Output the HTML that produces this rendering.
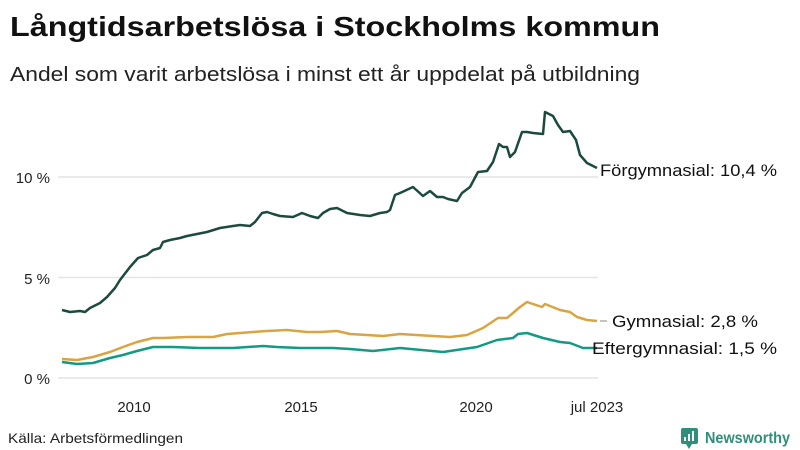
<!DOCTYPE html>
<html><head><meta charset="utf-8"><style>
html,body{margin:0;padding:0;background:#fff;width:800px;height:450px;overflow:hidden}
svg{display:block;font-family:"Liberation Sans","DejaVu Sans",sans-serif}
</style></head><body>
<svg width="800" height="450" viewBox="0 0 800 450">
<text x="10" y="36" font-size="28" font-weight="bold" fill="#111" textLength="650" lengthAdjust="spacingAndGlyphs">Långtidsarbetslösa i Stockholms kommun</text>
<text x="10" y="81" font-size="20" fill="#222" textLength="630" lengthAdjust="spacingAndGlyphs">Andel som varit arbetslösa i minst ett år uppdelat på utbildning</text>
<g stroke="#e3e3e8" stroke-width="1.5">
<line x1="58" y1="177" x2="598" y2="177"/><line x1="58" y1="277.5" x2="598" y2="277.5"/><line x1="58" y1="378" x2="598" y2="378"/>
</g>
<g font-size="15" fill="#222" text-anchor="end">
<text x="50" y="183">10 %</text><text x="50" y="284">5 %</text><text x="50" y="384">0 %</text>
</g>
<g font-size="15" fill="#222" text-anchor="middle">
<text x="134" y="412">2010</text><text x="301" y="412">2015</text><text x="476" y="412">2020</text><text x="597" y="412">jul 2023</text>
</g>
<g fill="none" stroke-width="2.5" stroke-linejoin="round">
<polyline stroke="#d9a441" points="62,359 77,360 93,357 110,352 123,347 137,342 153,338 163,338 187,337 213,337 227,334 240,333 253,332 267,331 287,330 307,332 320,332 337,331 350,334 367,335 383,336 400,334 433,336 450,337 467,335 483,328 498,318 507,318 513,313 520,307 527,302 542,307 545,304 560,310 570,312 577,317 587,320 597,321"/>
<polyline stroke="#119a85" points="62,362 77,364 93,363 110,358 123,355 137,351 153,347 173,347 200,348 233,348 263,346 277,347 300,348 333,348 350,349 373,351 400,348 443,352 477,347 497,340 513,338 518,334 527,333 543,338 560,342 570,343 583,348 597,348"/>
<polyline stroke="#1d4a40" points="62,310 70,312 80,311 85,312 90,308 100,303 107,297 115,288 120,280 130,267 138,258 147,255 153,250 160,248 163,242 170,240 180,238 187,236 197,234 207,232 220,228 233,226 240,225 250,226 255,222 262,213 267,212 273,214 280,216 293,217 302,213 310,216 318,218 323,213 330,209 337,208 347,213 360,215 370,216 380,213 387,212 390,210 395,195 400,193 413,187 423,196 430,191 437,197 443,197 448,199 457,201 462,193 470,187 478,172 487,171 493,162 499,144 503,147 507,147 510,157 515,152 522,132 527,132 533,133 543,134 545,112 553,116 558,125 563,132 570,131 576,140 580,155 587,163 597,168"/>
</g>
<line x1="600" y1="321" x2="607" y2="321" stroke="#888" stroke-width="1"/>
<g font-size="17" fill="#111">
<text x="600" y="176" textLength="177" lengthAdjust="spacingAndGlyphs">Förgymnasial: 10,4 %</text>
<text x="612" y="327" textLength="146" lengthAdjust="spacingAndGlyphs">Gymnasial:  2,8 %</text>
<text x="592" y="354" textLength="185" lengthAdjust="spacingAndGlyphs">Eftergymnasial:  1,5 %</text>
</g>
<text x="8" y="443" font-size="14" fill="#222" textLength="175" lengthAdjust="spacingAndGlyphs">Källa: Arbetsförmedlingen</text>
<g>
<rect x="681" y="428" width="17" height="16" rx="2" fill="#2f8f7a"/>
<polygon points="686,444 692,444 689,449" fill="#2f8f7a"/>
<rect x="684" y="437" width="2" height="4" fill="#fff"/><rect x="688" y="434" width="2" height="7" fill="#fff"/><rect x="692" y="431" width="2" height="10" fill="#fff"/>
<text x="705" y="443" font-size="16" font-weight="bold" fill="#2f8f7a" textLength="85" lengthAdjust="spacingAndGlyphs">Newsworthy</text>
</g>
</svg>
</body></html>
